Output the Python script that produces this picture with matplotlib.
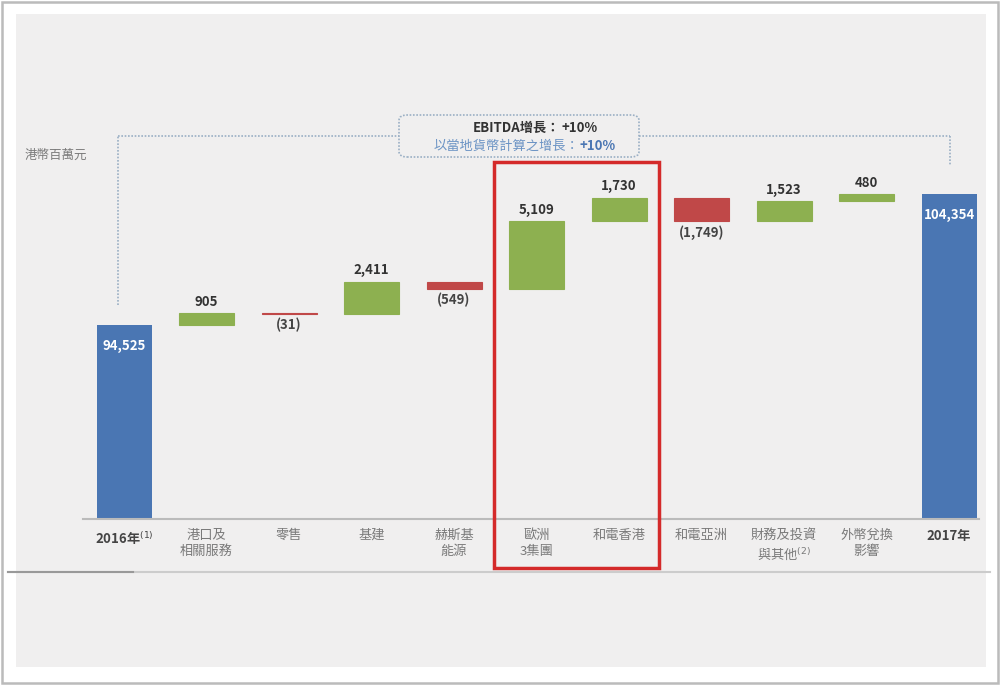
import numpy as np
import matplotlib.pyplot as plt
from matplotlib.patches import Rectangle, FancyBboxPatch
from matplotlib.lines import Line2D

plt.rcParams['font.family'] = ['Noto Sans CJK TC', 'DejaVu Sans']

# data
categories = ['2016年$^{(1)}$', '港口及\n相關服務', '零售', '基建', '赫斯基\n能源', '歐洲\n3集團',
              '和電香港', '和電亞洲', '財務及投資\n與其他$^{(2)}$', '外幣兌換\n影響', '2017年']
start_total = 94525
end_total = 104354
deltas = [905, -31, 2411, -549, 5109, 1730, -1749, 1523, 480]

BLUE = '#4a76b3'
GREEN = '#8db050'
RED = '#c04848'
BG = '#f0efef'

fig = plt.figure(figsize=(10, 6.85), dpi=100)
fig.patch.set_facecolor('white')

def px(x, y):
    return (x / 1000.0, 1 - y / 685.0)

# page border and gray panel
fig.patches.append(Rectangle(px(2, 683), 996 / 1000, 681 / 685, transform=fig.transFigure,
                             facecolor='white', edgecolor='#bbbbbb', lw=1.8, zorder=-10))
fig.patches.append(Rectangle(px(16, 667), 970 / 1000, 653 / 685, transform=fig.transFigure,
                             facecolor=BG, edgecolor='none', zorder=-9))
fig.add_artist(Line2D([8 / 1000, 990 / 1000], [1 - 572 / 685] * 2, transform=fig.transFigure,
                      color='#cccccc', lw=1.5))
fig.add_artist(Line2D([8 / 1000, 133 / 1000], [1 - 572 / 685] * 2, transform=fig.transFigure,
                      color='#999999', lw=1.5))

ax = fig.add_axes([0.0828, 1 - 519 / 685, 0.9075, 419 / 685])
ax.set_facecolor('none')
ax.set_xlim(-0.5, 10.5)
ax.set_ylim(80000, 111425)
ax.axis('off')
ax.axhline(80000, xmin=0, xmax=0.988, color='#bbbbbb', lw=1.5, clip_on=False)

w = 0.667
# start and end totals
ax.bar(0, start_total - 80000, bottom=80000, width=w, color=BLUE)
ax.bar(10, end_total - 80000, bottom=80000, width=w, color=BLUE)
for x, v in [(0, start_total), (10, end_total)]:
    ax.annotate(f'{v:,}', (x, v), xytext=(0, -10), textcoords='offset points',
                ha='center', va='top', color='white', fontsize=9.5, fontweight='bold')

level = start_total
for i, d in enumerate(deltas):
    x = i + 1
    bottom = level if d >= 0 else level + d
    col = GREEN if d >= 0 else RED
    ax.bar(x, abs(d), bottom=bottom, width=w, color=col, edgecolor=col, lw=0.8)
    if d >= 0:
        ax.annotate(f'{d:,}', (x, level + d), xytext=(0, 3), textcoords='offset points',
                    ha='center', va='bottom', color='#333333', fontsize=9.5, fontweight='bold')
    else:
        ax.annotate(f'({-d:,})', (x, level + d), xytext=(0, -3), textcoords='offset points',
                    ha='center', va='top', color='#444444', fontsize=9.5, fontweight='bold')
    level += d

# category labels
for i, lab in enumerate(categories):
    bold = i in (0, 10)
    ax.annotate(lab, (i, 80000), xytext=(0, -7), textcoords='offset points',
                ha='center', va='top', fontsize=9.5, linespacing=1.3,
                color='#444444' if bold else '#7a7a7a',
                fontweight='bold' if bold else 'normal')

# unit
fig.text(*px(25, 155), '港幣百萬元', fontsize=9, color='#7a7a7a', va='center', ha='left')

# dotted bracket
dcol = '#9aafc4'
def seg(x0, y0, x1, y1):
    a, b = px(x0, y0)
    c, d = px(x1, y1)
    fig.add_artist(Line2D([a, c], [b, d], transform=fig.transFigure, color=dcol,
                          lw=1.2, ls=(0, (1, 1))))
seg(118, 305, 118, 136)
seg(118, 136, 399, 136)
seg(639, 136, 950, 136)
seg(950, 136, 950, 166)
bx, by = px(399, 157)
fig.patches.append(FancyBboxPatch((bx, by), 240 / 1000, 42 / 685, transform=fig.transFigure,
                                  boxstyle='round,pad=0,rounding_size=0.008',
                                  facecolor='none', edgecolor=dcol, lw=1.2, ls=(0, (1, 1))))
fig.text(*px(560, 128), 'EBITDA增長：', ha='right', va='center', fontsize=9.5, color='#333333',
         fontweight='bold')
fig.text(*px(561, 128), '+10%', ha='left', va='center', fontsize=9.5, color='#333333', fontweight='bold')
fig.text(*px(579, 146), '以當地貨幣計算之增長：', ha='right', va='center', fontsize=9.5, color='#6b93c4')
fig.text(*px(580, 146), '+10%', ha='left', va='center', fontsize=9.5, color='#4a76b3', fontweight='bold')

# red highlight box
fig.patches.append(Rectangle(px(494, 568), 165 / 1000, 406 / 685, transform=fig.transFigure,
                             facecolor='none', edgecolor='#d42a2a', lw=2.5))

fig.savefig('out.png', dpi=100, facecolor=fig.get_facecolor())
